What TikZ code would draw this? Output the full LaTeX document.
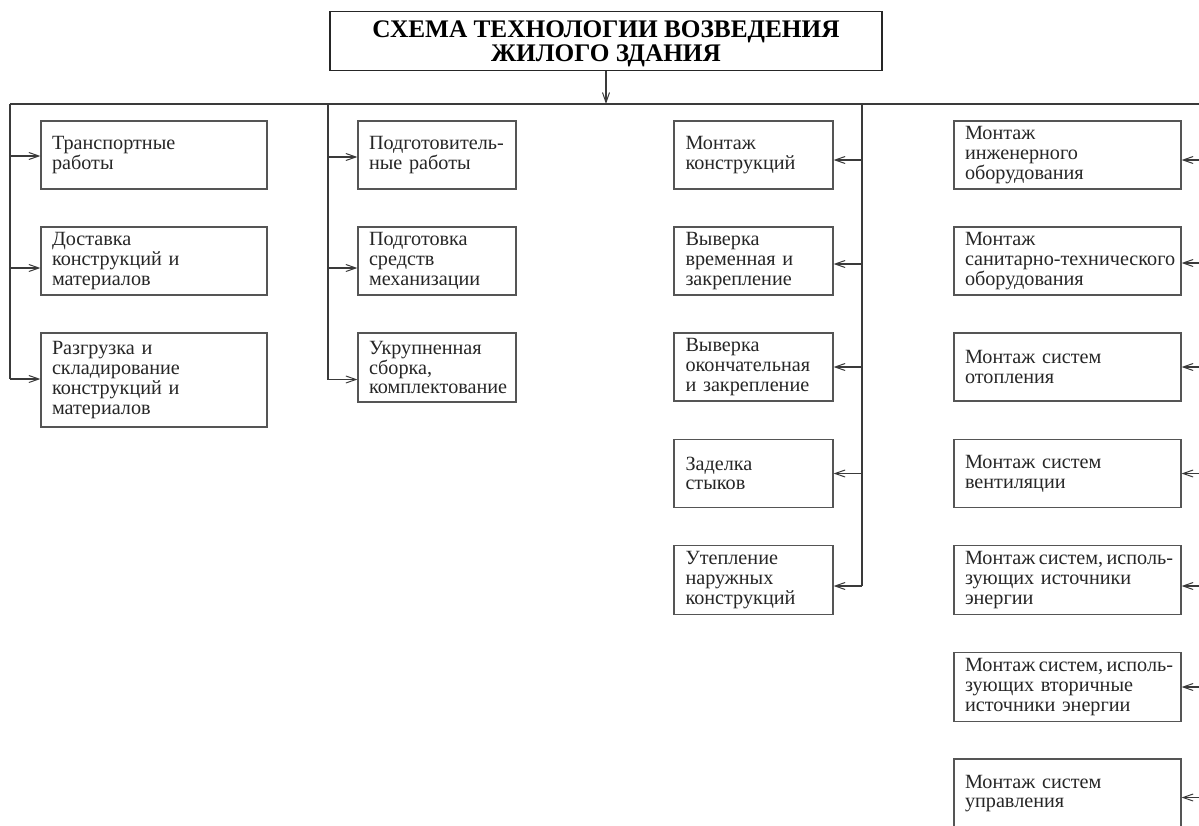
\documentclass[tikz,border=0pt]{standalone}
\usepackage{fontspec}
\setmainfont{Liberation Serif}
\usetikzlibrary{arrows.meta,calc}
\definecolor{lc}{HTML}{3A3A3A}
\definecolor{bc}{HTML}{555555}
\hbadness=10000 \hfuzz=30pt
\newcommand\bl[1]{\mbox{#1}}
\newcommand\tbl[1]{\mbox{\spaceskip=0.17em #1}}
\begin{document}
\begin{tikzpicture}[x=1pt,y=-1pt,
  bx/.style={draw=bc,line width=1.2pt,align=left,inner xsep=11pt,inner ysep=0pt,
    font=\fontsize{20.2}{19.7}\selectfont,text=black!85},
  wL/.style={bx,minimum width=226pt,text width=204pt},
  wM/.style={bx,minimum width=158pt,text width=136pt},
  wR/.style={bx,minimum width=227pt,text width=205pt},
  ttl/.style={draw=black!85,line width=1.4pt,minimum width=552pt,minimum height=59pt,
    align=center,font=\bfseries\fontsize{25.3}{24}\selectfont,inner sep=0pt},
  ln/.style={draw=lc,line width=1.1pt},
  arr/.style={ln,-{Straight Barb[length=10pt,width=7pt,line width=1pt]}}]
\useasboundingbox (0,0) rectangle (1199,825);
\begin{scope}
\clip (0,0) rectangle (1199,825);
% title
\node[ttl] (t) at (606,41) {};
\node[font=\bfseries\fontsize{25.3}{24}\selectfont,align=center,inner sep=0pt] (tt) at (606,43.5) {СХЕМА ТЕХНОЛОГИИ ВОЗВЕДЕНИЯ\\ЖИЛОГО ЗДАНИЯ};
\coordinate (busL) at (10,104);
\coordinate (busR) at (1199,104);
\draw[ln] (busL) -- (busR);
\draw[arr] (t.south) -- (t.south |- busL);
% left column
\node[wL,minimum height=68pt] (l1) at (154,155) {\bl{Транспортные}\\\bl{работы}};
\node[wL,minimum height=68pt] (l2) at (154,261) {\bl{Доставка}\\\bl{конструкций и}\\\bl{материалов}};
\node[wL,minimum height=94pt] (l3) at (154,380) {\bl{Разгрузка и}\\\bl{складирование}\\\bl{конструкций и}\\\bl{материалов}};
% middle column
\node[wM,minimum height=68pt] (m1) at (437,155) {\bl{Подготовитель-}\\\bl{ные работы}};
\node[wM,minimum height=68pt] (m2) at (437,261) {\bl{Подготовка}\\\bl{средств}\\\bl{механизации}};
\node[wM,minimum height=69pt] (m3) at (437,367.5) {\bl{Укрупненная}\\\bl{сборка,}\\\bl{комплектование}};
% third column
\node[wM,minimum width=159pt,minimum height=68pt] (c1) at (753.5,155) {\bl{Монтаж}\\\bl{конструкций}};
\node[wM,minimum width=159pt,minimum height=68pt] (c2) at (753.5,261) {\bl{Выверка}\\\bl{временная и}\\\bl{закрепление}};
\node[wM,minimum width=159pt,minimum height=68pt] (c3) at (753.5,367) {\bl{Выверка}\\\bl{окончательная}\\\bl{и закрепление}};
\node[wM,minimum width=159pt,minimum height=68pt] (c4) at (753.5,473.5) {\bl{Заделка}\\\bl{стыков}};
\node[wM,minimum width=159pt,minimum height=69pt] (c5) at (753.5,580) {\bl{Утепление}\\\bl{наружных}\\\bl{конструкций}};
% right column
\node[wR,minimum height=68pt] (r1) at (1067.5,155) {\bl{Монтаж}\\\bl{инженерного}\\\bl{оборудования}};
\node[wR,minimum height=68pt] (r2) at (1067.5,261) {\bl{Монтаж}\\\bl{санитарно-технического}\\\bl{оборудования}};
\node[wR,minimum height=68pt] (r3) at (1067.5,367) {\bl{Монтаж систем}\\\bl{отопления}};
\node[wR,minimum height=68pt] (r4) at (1067.5,473.5) {\bl{Монтаж систем}\\\bl{вентиляции}};
\node[wR,minimum height=69pt] (r5) at (1067.5,580) {\tbl{Монтаж систем, исполь-}\\\bl{зующих источники}\\\bl{энергии}};
\node[wR,minimum height=69pt] (r6) at (1067.5,687) {\tbl{Монтаж систем, исполь-}\\\bl{зующих вторичные}\\\bl{источники энергии}};
\node[wR,minimum height=69pt] (r7) at (1067.5,793.5) {\bl{Монтаж систем}\\\bl{управления}};
% arrow end points
\coordinate (la1) at ([yshift=-1pt]l1.west);
\coordinate (la2) at ([yshift=-7pt]l2.west);
\coordinate (la3) at ([yshift=1pt]l3.west);
\coordinate (ma1) at ([yshift=-2pt]m1.west);
\coordinate (ma2) at ([yshift=-7pt]m2.west);
\coordinate (ma3) at ([yshift=-12pt]m3.west);
\coordinate (ca1) at ([yshift=-5pt]c1.east);
\coordinate (ca2) at ([yshift=-3pt]c2.east);
\coordinate (ca3) at (c3.east);
\coordinate (ca4) at (c4.east);
\coordinate (ca5) at ([yshift=-6pt]c5.east);
\coordinate (ra1) at ([yshift=-5pt]r1.east);
\coordinate (ra2) at ([yshift=-2pt]r2.east);
\coordinate (ra3) at (r3.east);
\coordinate (ra4) at (r4.east);
\coordinate (ra5) at ([yshift=-6pt]r5.east);
\coordinate (ra6) at (r6.east);
\coordinate (ra7) at ([yshift=-4pt]r7.east);
\coordinate (vL) at (10,104);
\coordinate (vM) at (328,104);
\coordinate (vC) at (862,104);
\coordinate (vR) at (1199,104);
% buses
\draw[ln] (vL) -- (vL |- la3);
\draw[ln] (vM) -- (vM |- ma3);
\draw[ln] (vC) -- (vC |- ca5);
\foreach \a in {la1,la2,la3} \draw[arr] (vL |- \a) -- (\a);
\foreach \a in {ma1,ma2,ma3} \draw[arr] (vM |- \a) -- (\a);
\foreach \a in {ca1,ca2,ca3,ca4,ca5} \draw[arr] (vC |- \a) -- (\a);
\foreach \a in {ra1,ra2,ra3,ra4,ra5,ra6,ra7} \draw[arr] (vR |- \a) -- (\a);
\end{scope}
\end{tikzpicture}
\end{document}
